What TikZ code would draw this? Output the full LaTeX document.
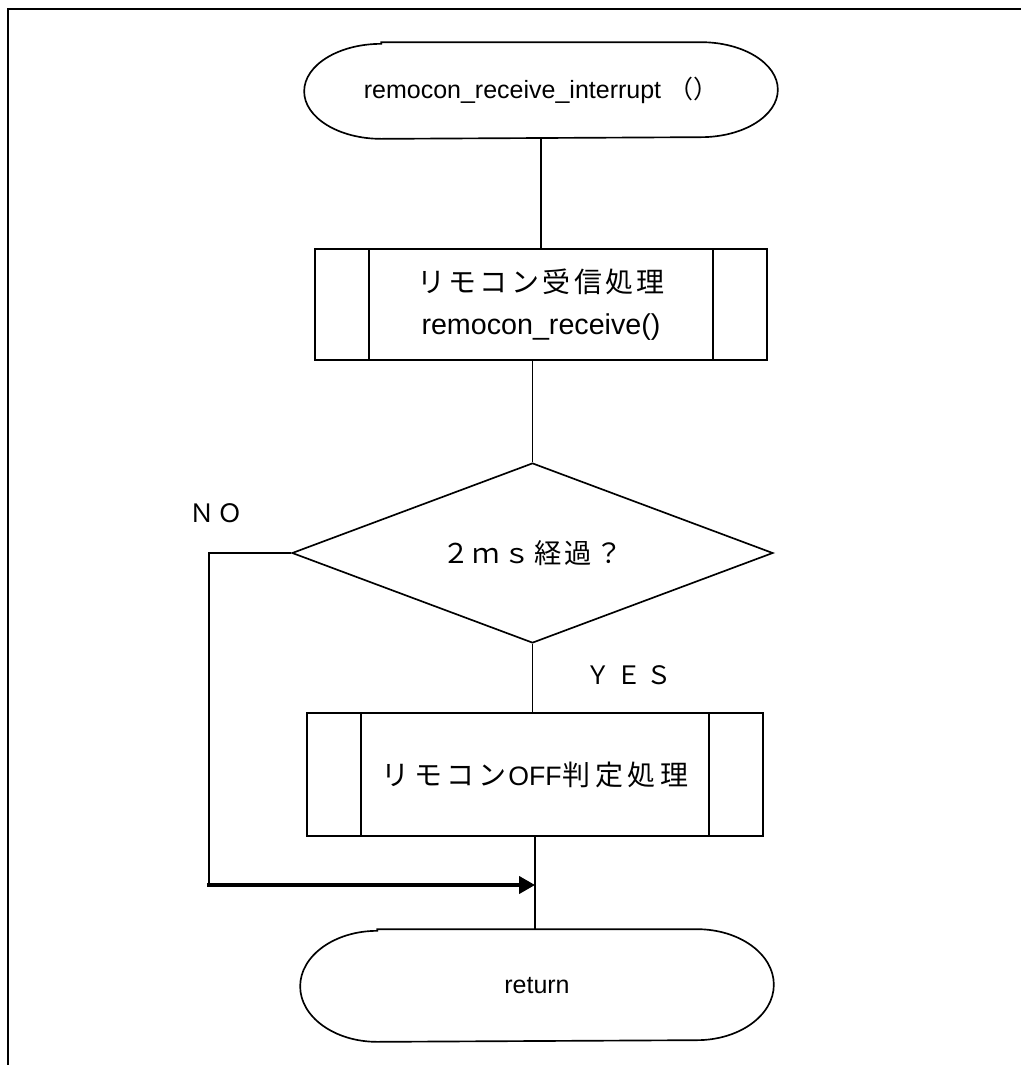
\documentclass[tikz,border=0pt]{standalone}
\usepackage{fontspec}
\setmainfont{Liberation Sans}
\newfontfamily\jp[LetterSpace=12]{Noto Sans CJK JP}
\newfontfamily\jpw[LetterSpace=16]{Noto Sans CJK JP}
\newfontfamily\jpd[LetterSpace=12]{Noto Sans CJK JP}
\newfontfamily\jpl[LetterSpace=20]{Noto Sans CJK JP}
\newfontfamily\jpn{Noto Sans CJK JP}
\usetikzlibrary{shapes.geometric,arrows.meta,calc}
\newcommand\termoutline[2]{%
  \draw ([xshift=57.75pt]#1.north west) -- ([xshift=-57.75pt]#1.north east)
    arc[start angle=90, end angle=-90, x radius=57.75pt, y radius=#2]
    -- ([xshift=57.75pt]#1.south west)
    arc[start angle=270, end angle=90, x radius=57.75pt, y radius=#2] -- cycle;}
\newcommand\subbars[1]{%
  \draw ([xshift=41pt]#1.north west) -- ([xshift=41pt]#1.south west);
  \draw ([xshift=-41pt]#1.north east) -- ([xshift=-41pt]#1.south east);}
\begin{document}
\begin{tikzpicture}[x=0.75pt,y=-0.75pt,
  line width=1.25pt,
  every node/.style={font=\fontsize{18.75pt}{30pt}\selectfont, inner sep=0pt},
  term/.style={minimum width=354pt, minimum height=71.25pt},
  subbox/.style={draw, minimum width=339pt, minimum height=83.25pt, align=center},
  decision/.style={draw, diamond, aspect=2.67, minimum width=360.75pt, minimum height=135pt},
  arrowline/.style={line width=2.4pt, -{Triangle[length=12pt,width=13pt]}}
]
\useasboundingbox (0,0) rectangle (1021,1065);
\draw[line width=1.6pt] (8,1065) -- (8,9) -- (1021,9);

\node[term] (start) at (541,90.5) {remocon\_receive\_interrupt {\jpn （）}};
\termoutline{start}{35.625pt}

\node[subbox, font=\fontsize{21pt}{31pt}\selectfont] (box1) at (541,304.5)
  {{\jp リモコン受信処理}\\{\fontsize{21.5pt}{31pt}\selectfont remocon\_receive()}};
\subbars{box1}

\node[decision] (dec) at (532.5,553) {{\fontsize{20.5pt}{30pt}\selectfont\jpd ２ｍｓ経過？}};

\node[subbox, minimum width=342pt, minimum height=92.25pt, font=\fontsize{21pt}{30pt}\selectfont] (box2) at (535,774.5)
  {{\jpw リモコン}\kern1pt{\fontsize{20pt}{30pt}\selectfont OFF}\kern1pt{\jpw 判定処理}};
\subbars{box2}

\node[term, minimum height=83.25pt] (ret) at (537,985.5) {return};
\termoutline{ret}{41.625pt}

\node (no) at (216,513) {\fontsize{19pt}{30pt}\selectfont\jp ＮＯ};
\node (yes) at (629,675) {\fontsize{19pt}{30pt}\selectfont\jpl ＹＥＳ};

\draw (start.south) -- (box1.north);
\draw (dec.north |- box1.south) -- (dec.north);
\draw (dec.south) -- (dec.south |- box2.north);
\draw (box2.south) -- (box2.south |- ret.north);
\coordinate (nocorner) at (209,553);
\coordinate (nobot) at (209,885);
\draw (dec.west) -- (nocorner) -- (nobot);
\coordinate (join) at (box2.south |- nobot);
\draw[arrowline] ([xshift=-1.5pt]nobot) -- (join);
\end{tikzpicture}
\end{document}
